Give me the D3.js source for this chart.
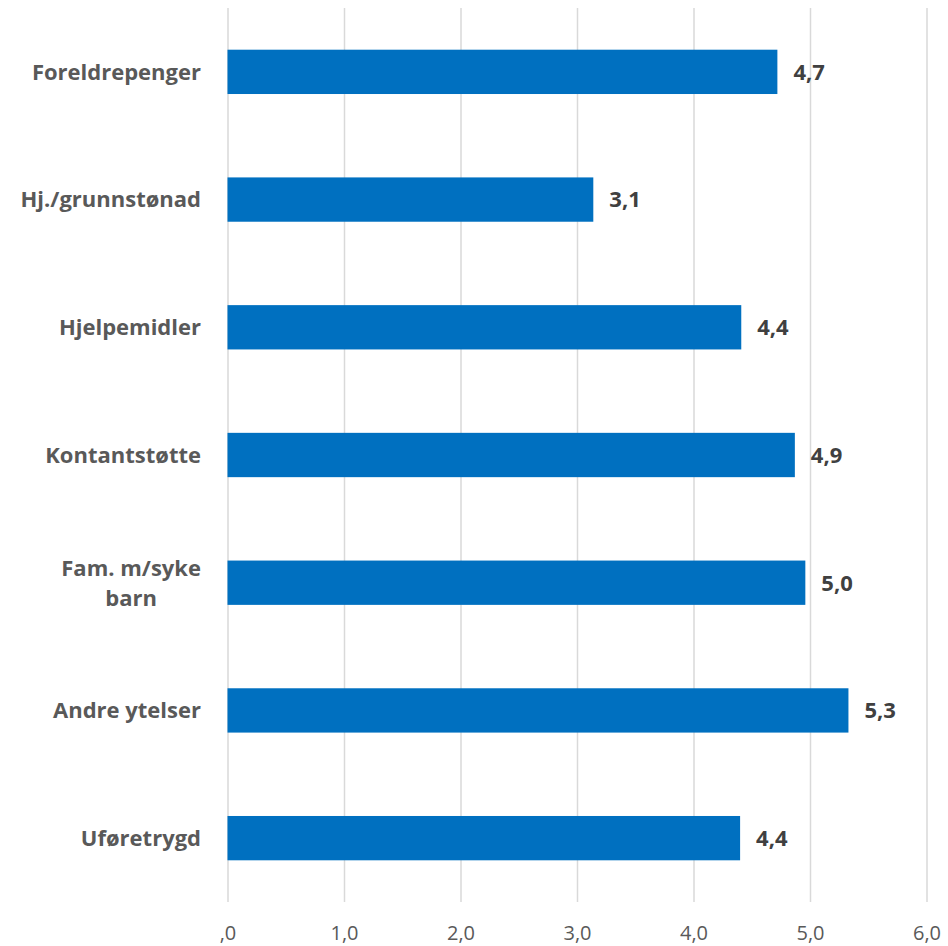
<!DOCTYPE html>
<html lang="no">
	<head>
		<meta charset="utf-8">
		<title>Ytelser</title>
		<script type="text/javascript" src="https://cdn.jsdelivr.net/npm/d3@7/dist/d3.min.js"></script>
		<style type="text/css">
			body { margin: 0; background: #fff; }
			.axis path { display: none; }
			.axis line { stroke: #d9d9d9; stroke-width: 1.5; }
			.x.axis text {
				font-family: "Open Sans", sans-serif;
				font-size: 20px;
				fill: #595959;
			}
			.cat text {
				font-family: "Open Sans", sans-serif;
				font-weight: bold;
				font-size: 22px;
				fill: #595959;
			}
			.val {
				font-family: "Open Sans", sans-serif;
				font-weight: bold;
				font-size: 22px;
				fill: #404040;
			}
		</style>
	</head>
	<body>
		<script type="text/javascript">
			var w = 948;
			var h = 946;

			// categories and values
			var categories = ["Foreldrepenger", "Hj./grunnstønad", "Hjelpemidler", "Kontantstøtte",
							  "Fam. m/syke barn", "Andre ytelser", "Uføretrygd"];
			var values = [4.72, 3.14, 4.41, 4.87, 4.96, 5.33, 4.40];
			var valueLabels = ["4,7", "3,1", "4,4", "4,9", "5,0", "5,3", "4,4"];
			// category labels broken into lines like in the original
			var catLines = [["Foreldrepenger"], ["Hj./grunnstønad"], ["Hjelpemidler"], ["Kontantstøtte"],
							["Fam. m/syke", "barn"], ["Andre ytelser"], ["Uføretrygd"]];
			var xTicks = [0, 1, 2, 3, 4, 5, 6];
			var xTickLabels = [",0", "1,0", "2,0", "3,0", "4,0", "5,0", "6,0"];

			var plotLeft = 227.5, plotRight = 926.5, plotTop = 8, plotBottom = 902;

			var xScale = d3.scaleLinear().domain([0, 6]).range([plotLeft, plotRight]);
			var yScale = d3.scaleBand().domain(categories).range([plotTop, plotBottom])
							.paddingInner(0.653).paddingOuter(0.3265);

			var svg = d3.select("body").append("svg").attr("width", w).attr("height", h);

			//gridlines + x axis labels
			var xAxis = d3.axisBottom(xScale).tickValues(xTicks)
							.tickSize(-(plotBottom - plotTop)).tickPadding(24)
							.tickFormat(function(d, i) { return xTickLabels[i]; });
			svg.append("g").attr("class", "x axis")
			   .attr("transform", "translate(0," + plotBottom + ")").call(xAxis);

			//bars
			svg.selectAll("rect.bar")
			   .data(values)
			   .enter()
			   .append("rect")
			   .attr("class", "bar")
			   .attr("x", xScale(0))
			   .attr("y", function(d, i) { return yScale(categories[i]); })
			   .attr("width", function(d) { return xScale(d) - xScale(0); })
			   .attr("height", yScale.bandwidth())
			   .style("fill", "#0070c0");

			//value labels
			svg.selectAll("text.val")
			   .data(values)
			   .enter()
			   .append("text")
			   .attr("class", "val")
			   .attr("x", function(d) { return xScale(d) + 16; })
			   .attr("y", function(d, i) { return yScale(categories[i]) + yScale.bandwidth() / 2; })
			   .attr("dy", "0.36em")
			   .text(function(d, i) { return valueLabels[i]; });

			//category labels (multi-line, block right aligned, lines centered)
			var lineH = 30;
			var cat = svg.append("g").attr("class", "cat");
			categories.forEach(function(c, i) {
				var lines = catLines[i];
				var cy = yScale(c) + yScale.bandwidth() / 2;
				var texts = cat.append("g").selectAll("text").data(lines).enter().append("text")
							 .attr("text-anchor", "middle")
							 .attr("y", function(d, j) { return cy + (j - (lines.length - 1) / 2) * lineH; })
							 .attr("dy", "0.36em")
							 .text(function(d) { return d; });
				var maxW = 0;
				texts.each(function() { maxW = Math.max(maxW, this.getComputedTextLength()); });
				texts.attr("x", 201 - maxW / 2);
			});
		</script>
	</body>
</html>
